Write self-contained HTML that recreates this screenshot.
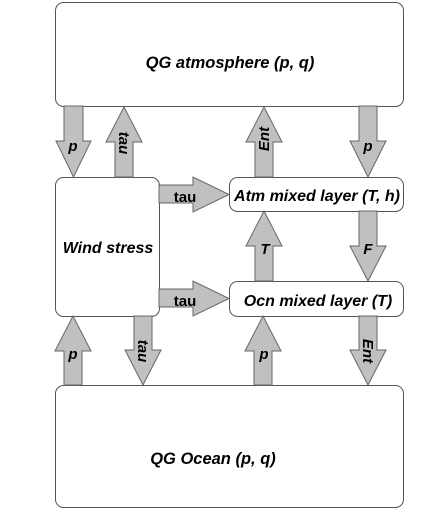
<!DOCTYPE html>
<html><head><style>
html,body{margin:0;padding:0;background:#fff;width:440px;height:512px;overflow:hidden}
text{font-family:"Liberation Sans",Arial,sans-serif;font-weight:bold;fill:#000}
.i{font-style:italic}
</style></head><body>
<svg width="440" height="512" viewBox="0 0 440 512" xmlns="http://www.w3.org/2000/svg">
<g fill="#fff" stroke="#555" stroke-width="1">
<rect x="55.5" y="2.5" width="348" height="104" rx="8"/>
<rect x="55.5" y="177.5" width="104" height="139" rx="8"/>
<rect x="229.5" y="177.5" width="174" height="34" rx="8"/>
<rect x="229.5" y="281.5" width="174" height="35" rx="8"/>
<rect x="55.5" y="385.5" width="348" height="122" rx="8"/>
</g>
<g fill="#c0c0c0" stroke="#666" stroke-width="1">
<polygon points="64,106 83,106 83,141 91,141 73.5,177 56,141 64,141"/>
<polygon points="115,177 133,177 133,142 142,142 124,107 106,142 115,142"/>
<polygon points="255,177 273,177 273,142 282,142 264,107 246,142 255,142"/>
<polygon points="359,106 377,106 377,141 386,141 368,177 350,141 359,141"/>
<polygon points="159,185 193,185 193,177 229,194.5 193,212 193,203 159,203"/>
<polygon points="159,289 193,289 193,281 229,298.5 193,316 193,307 159,307"/>
<polygon points="255,281 273,281 273,246 282,246 264,211 246,246 255,246"/>
<polygon points="359,211 377,211 377,246 386,246 368,281 350,246 359,246"/>
<polygon points="64,385 82,385 82,351 91,351 73,316 55,351 64,351"/>
<polygon points="134,316 152,316 152,350 161,350 143,385 125,350 134,350"/>
<polygon points="254,385 272,385 272,351 281,351 263,316 245,351 254,351"/>
<polygon points="359,316 377,316 377,350 386,350 368,385 350,350 359,350"/>
</g>
<g text-anchor="middle">
<text class="i" x="230" y="68" font-size="16.5">QG atmosphere (p, q)</text>
<text class="i" x="213" y="464" font-size="16.5">QG Ocean (p, q)</text>
<text class="i" x="108" y="253" font-size="16">Wind stress</text>
<text class="i" x="317" y="201" font-size="16">Atm mixed layer (T, h)</text>
<text class="i" x="318" y="306" font-size="16">Ocn mixed layer (T)</text>
<text x="185" y="202" font-size="15">tau</text>
<text x="185" y="306" font-size="15">tau</text>
<text class="i" x="73" y="151" font-size="15">p</text>
<text class="i" x="368" y="151" font-size="15">p</text>
<text class="i" x="265" y="254" font-size="15">T</text>
<text class="i" x="368" y="254" font-size="15">F</text>
<text class="i" x="73" y="359" font-size="15">p</text>
<text class="i" x="264" y="359" font-size="15">p</text>
<text class="i" font-size="15" transform="translate(119,143) rotate(90)">tau</text>
<text class="i" font-size="15" transform="translate(269,139) rotate(-90)">Ent</text>
<text class="i" font-size="15" transform="translate(138,351) rotate(90)">tau</text>
<text class="i" font-size="15" transform="translate(363,351) rotate(90)">Ent</text>
</g>
</svg>
</body></html>
